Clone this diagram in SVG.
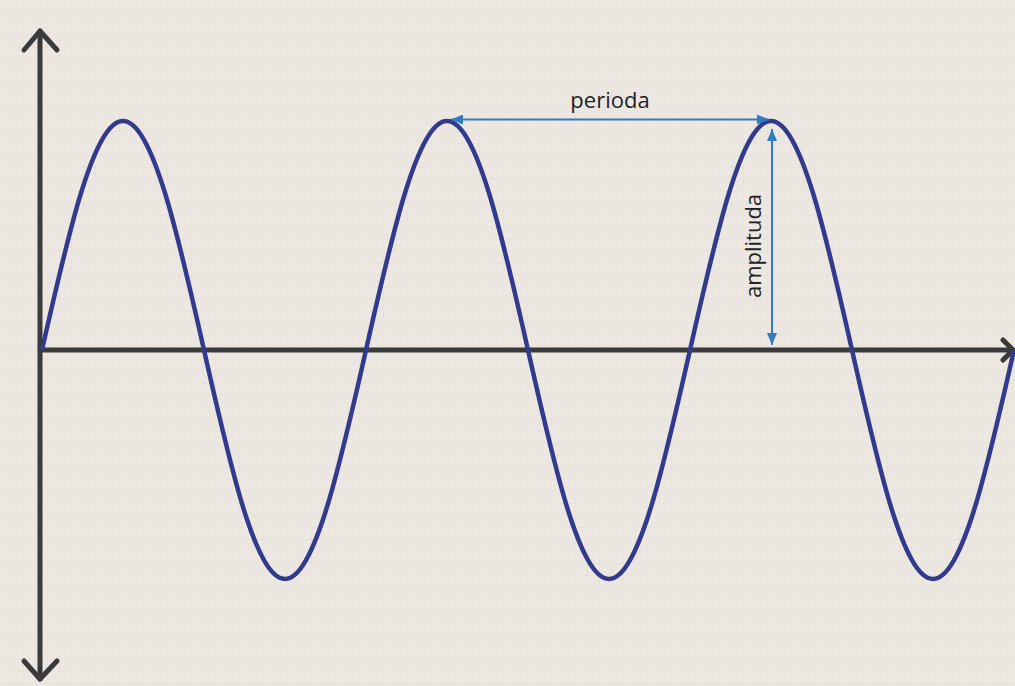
<svg xmlns="http://www.w3.org/2000/svg" width="1015" height="686" viewBox="0 0 1015 686">
<defs>
<pattern id="grid" width="12" height="12" patternUnits="userSpaceOnUse">
<path d="M12 0V12M0 12H12" fill="none" stroke="#e2ddd4" stroke-width="1"/>
</pattern>
<marker id="ah" viewBox="0 0 12 10" refX="12" refY="5" markerWidth="12" markerHeight="10" markerUnits="userSpaceOnUse" orient="auto-start-reverse">
<path d="M0 0L12 5L0 10Z" fill="#2f7cc2"/>
</marker>
<style>
.axis{fill:none;stroke:#3a3a3a;stroke-width:5;stroke-linecap:round;stroke-linejoin:round}
.wave{fill:none;stroke:#313a8c;stroke-width:4.5}
.dim{fill:none;stroke:#2f7cc2;stroke-width:2}
.lbl{font-family:"Open Sans","Liberation Sans",sans-serif;font-size:22px;fill:#222}
</style>
</defs>
<rect width="1015" height="686" fill="#ece8e1"/>
<rect width="1015" height="686" fill="url(#grid)"/>
<g id="axes">
<path class="axis" d="M40 31V679"/>
<path class="axis" d="M24 50L40 31L57 50"/>
<path class="axis" d="M24 661L40 679L57 661"/>
<path class="axis" d="M40 350H1012"/>
<path class="axis" d="M1003 340L1013 350L1003 360"/>
</g>
<g id="wave">
<path class="wave" d="M42 350c26.42,-117.3 51.82,-229 81,-229c29.18,0 54.58,111.7 81,229c26.42,117.3 51.82,229 81,229c29.18,0 54.58,-111.7 81,-229c26.42,-117.3 51.82,-229 81,-229c29.18,0 54.58,111.7 81,229c26.42,117.3 51.82,229 81,229c29.18,0 54.58,-111.7 81,-229c26.42,-117.3 51.82,-229 81,-229c29.18,0 54.58,111.7 81,229c26.42,117.3 51.82,229 81,229c29.18,0 54.58,-111.7 81,-229"/>
</g>
<g id="connectors">
<path class="dim" d="M451 119.5H769" marker-start="url(#ah)" marker-end="url(#ah)"/>
<path class="dim" d="M772 129V345" marker-start="url(#ah)" marker-end="url(#ah)"/>
</g>
<g id="perioda">
<text class="lbl" x="610" y="108" text-anchor="middle">perioda</text>
</g>
<g id="amplituda">
<text class="lbl" transform="translate(761 246) rotate(-90)" text-anchor="middle">amplituda</text>
</g>
</svg>
